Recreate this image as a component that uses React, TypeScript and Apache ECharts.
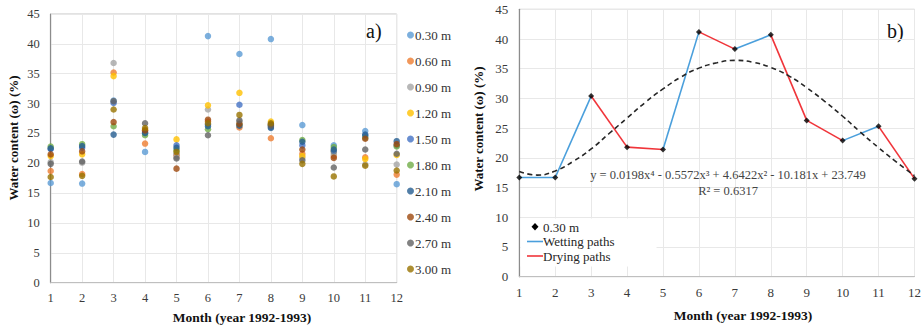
import React, { useEffect, useRef } from "react";
import * as echarts from "echarts";

const months = [1, 2, 3, 4, 5, 6, 7, 8, 9, 10, 11, 12];
const depths = ["0.30 m", "0.60 m", "0.90 m", "1.20 m", "1.50 m", "1.80 m", "2.10 m", "2.40 m", "2.70 m", "3.00 m"];
const depthColors = ["#5B9BD5", "#ED7D31", "#A5A5A5", "#FFC000", "#4472C4", "#70AD47", "#255E91", "#9E480E", "#636363", "#997300"];

const d030 = [16.7, 16.6, 30.5, 21.9, 21.5, 41.3, 38.3, 40.8, 26.4, 23.0, 25.4, 16.5];
const d060 = [18.7, 18.2, 35.2, 23.3, 21.3, 27.0, 26.0, 24.2, 21.6, 21.2, 21.0, 18.1];
const d090 = [20.2, 20.1, 36.8, 25.3, 21.0, 29.0, 27.0, 26.6, 20.9, 21.6, 19.8, 19.8];
const d120 = [21.2, 21.5, 34.6, 25.6, 24.0, 29.7, 31.8, 27.0, 21.2, 22.0, 20.7, 21.4];
const d150 = [22.4, 22.6, 30.1, 25.0, 23.0, 26.5, 29.8, 26.1, 23.0, 22.0, 24.6, 23.0];
const d180 = [22.8, 23.2, 26.2, 24.7, 22.2, 25.7, 26.5, 26.4, 23.9, 22.7, 24.3, 22.8];
const d210 = [22.5, 22.9, 24.8, 25.1, 22.6, 26.2, 26.3, 25.9, 23.6, 22.3, 24.8, 23.7];
const d240 = [21.5, 22.0, 26.9, 25.5, 19.1, 27.3, 26.6, 26.5, 22.3, 20.9, 24.1, 23.2];
const d270 = [19.9, 20.3, 30.4, 26.7, 20.8, 24.7, 27.2, 26.3, 20.5, 19.3, 22.3, 21.6];
const d300 = [17.7, 17.9, 29.0, 25.9, 21.9, 26.7, 28.1, 26.7, 19.9, 17.8, 19.6, 18.8];
const depthData = [d030, d060, d090, d120, d150, d180, d210, d240, d270, d300];

// right panel: 0.30 m series
const b030 = [16.7, 16.7, 30.4, 21.8, 21.4, 41.2, 38.3, 40.7, 26.3, 22.9, 25.3, 16.5];
// polynomial trend line read at half-month steps
const trendX = [1, 1.5, 2, 2.5, 3, 3.5, 4, 4.5, 5, 5.5, 6, 6.5, 7, 7.5, 8, 8.5, 9, 9.5, 10, 10.5, 11, 11.5, 12];
const trendY = [17.7, 17.1, 17.8, 19.4, 21.5, 24.1, 26.7, 29.3, 31.6, 33.6, 35.1, 36.0, 36.4, 36.1, 35.2, 33.8, 31.8, 29.5, 27.0, 24.3, 21.7, 19.3, 17.0];

const yTicks = [0, 5, 10, 15, 20, 25, 30, 35, 40, 45];
const WET = "#4A9FDC";
const DRY = "#F0353A";
const FONT = "Liberation Serif, serif";

export default function App() {
  const ref = useRef<HTMLDivElement>(null);
  useEffect(() => {
    const chart = echarts.init(ref.current!, null, { renderer: "svg" });

    const xAxisBase = (gridIndex: number, margin: number, fs: number) => ({
      type: "value",
      gridIndex,
      min: months[0],
      max: months[months.length - 1],
      interval: 1,
      axisLine: { show: true, lineStyle: { color: "#bfbfbf", width: 1 } },
      axisTick: { show: false },
      axisLabel: { color: "#3a3a3a", fontFamily: FONT, fontSize: fs, margin },
      splitLine: { show: true, lineStyle: { color: "#e8e8e8", width: 1 } },
    });
    const yAxisBase = (gridIndex: number, fs: number) => ({
      type: "value",
      gridIndex,
      min: yTicks[0],
      max: yTicks[yTicks.length - 1],
      interval: 5,
      axisLine: { show: true, lineStyle: { color: "#8c8c8c", width: 1.2 } },
      axisTick: { show: false },
      axisLabel: { color: "#3a3a3a", fontFamily: FONT, fontSize: fs, margin: 11 },
      splitLine: { show: true, lineStyle: { color: "#e8e8e8", width: 1 } },
    });

    const series: any[] = [];
    depths.forEach((name, i) => {
      series.push({
        type: "scatter",
        name,
        xAxisIndex: 0,
        yAxisIndex: 0,
        symbol: "circle",
        symbolSize: 6.5,
        itemStyle: { color: depthColors[i] },
        data: months.map((m, k) => [m, depthData[i][k]]),
      });
    });

    // wetting / drying segments
    for (let k = 0; k < b030.length - 1; k++) {
      const wet = b030[k + 1] >= b030[k];
      series.push({
        type: "line",
        name: wet ? "Wetting paths" : "Drying paths",
        xAxisIndex: 1,
        yAxisIndex: 1,
        symbol: "none",
        lineStyle: { color: wet ? WET : DRY, width: 1.6 },
        itemStyle: { color: wet ? WET : DRY },
        data: [
          [months[k], b030[k]],
          [months[k + 1], b030[k + 1]],
        ],
        z: 2,
      });
    }
    series.push({
      type: "line",
      name: "trend",
      xAxisIndex: 1,
      yAxisIndex: 1,
      symbol: "none",
      smooth: 0.5,
      lineStyle: { color: "#262626", width: 1.6, type: [5, 3.5] },
      data: trendX.map((x, k) => [x, trendY[k]]),
      z: 3,
    });
    series.push({
      type: "scatter",
      name: "0.30 m (b)",
      xAxisIndex: 1,
      yAxisIndex: 1,
      symbol: "diamond",
      symbolSize: 6,
      itemStyle: { color: "#000" },
      data: months.map((m, k) => [m, b030[k]]),
      z: 4,
    });

    const txt = (size: number, bold = false) => `${bold ? "bold " : ""}${size}px ${FONT}`;

    chart.setOption({
      animation: false,
      backgroundColor: "#fff",
      textStyle: { fontFamily: FONT },
      grid: [
        { left: 50.7, top: 14, width: 346, height: 268.7, show: true, borderColor: "#c4c4c4", borderWidth: 1 },
        { left: 519.3, top: 9.3, width: 397.4, height: 267.4, show: true, borderColor: "#c4c4c4", borderWidth: 1 },
      ],
      xAxis: [xAxisBase(0, 9, 12.5), xAxisBase(1, 9, 13)],
      yAxis: [yAxisBase(0, 12.5), yAxisBase(1, 13)],
      legend: [
        {
          orient: "vertical",
          left: 402,
          top: 23,
          itemGap: 12,
          itemWidth: 7,
          itemHeight: 7,
          icon: "circle",
          data: depths,
          textStyle: { fontFamily: FONT, fontSize: 13, color: "#333", lineHeight: 14, padding: [0, 0, 0, -4] },
        },
      ],
      graphic: [
        { type: "text", left: 366, top: 21, style: { text: "a)", font: txt(20), fill: "#111" } },
        { type: "text", left: 887, top: 21, style: { text: "b)", font: txt(20), fill: "#111" } },
        {
          type: "text",
          x: 13,
          y: 138,
          rotation: Math.PI / 2,
          style: { text: "Water content (ω) (%)", font: txt(13, true), fill: "#111", align: "center", verticalAlign: "middle" },
        },
        {
          type: "text",
          x: 478,
          y: 129,
          rotation: Math.PI / 2,
          style: { text: "Water content (ω) (%)", font: txt(13, true), fill: "#111", align: "center", verticalAlign: "middle" },
        },
        {
          type: "text",
          x: 242,
          y: 317,
          style: { text: "Month (year 1992-1993)", font: txt(13.5, true), fill: "#111", align: "center", verticalAlign: "middle" },
        },
        {
          type: "text",
          x: 743,
          y: 315,
          style: { text: "Month (year 1992-1993)", font: txt(13.5, true), fill: "#111", align: "center", verticalAlign: "middle" },
        },
        {
          type: "text",
          x: 728,
          y: 175,
          z: 10,
          style: { text: "y = 0.0198x⁴ - 0.5572x³ + 4.6422x² - 10.181x + 23.749", font: txt(12.5), fill: "#444", align: "center", verticalAlign: "middle" },
        },
        {
          type: "text",
          x: 728,
          y: 190.5,
          z: 10,
          style: { text: "R² = 0.6317", font: txt(12.5), fill: "#444", align: "center", verticalAlign: "middle" },
        },
        // right legend
        { type: "rect", z: 20, shape: { x: 520.5, y: 218.5, width: 136, height: 48 }, style: { fill: "#fff" } },
        {
          type: "polygon",
          z: 21,
          shape: { points: [[535, 223], [538.5, 226.7], [535, 230.4], [531.5, 226.7]] },
          style: { fill: "#000" },
        },
        { type: "text", z: 21, x: 543, y: 227, style: { text: "0.30 m", font: txt(13), fill: "#262626", verticalAlign: "middle" } },
        { type: "line", z: 21, shape: { x1: 527, y1: 241.5, x2: 543, y2: 241.5 }, style: { stroke: WET, lineWidth: 1.6 } },
        { type: "text", z: 21, x: 543, y: 241.5, style: { text: "Wetting paths", font: txt(13), fill: "#262626", verticalAlign: "middle" } },
        { type: "line", z: 21, shape: { x1: 527, y1: 256, x2: 543, y2: 256 }, style: { stroke: DRY, lineWidth: 1.6 } },
        { type: "text", z: 21, x: 543, y: 256, style: { text: "Drying paths", font: txt(13), fill: "#262626", verticalAlign: "middle" } },
      ],
      series,
    });
    return () => chart.dispose();
  }, []);
  return <div ref={ref} style={{ position: "fixed", left: 0, top: 0, width: 924, height: 325 }} />;
}
